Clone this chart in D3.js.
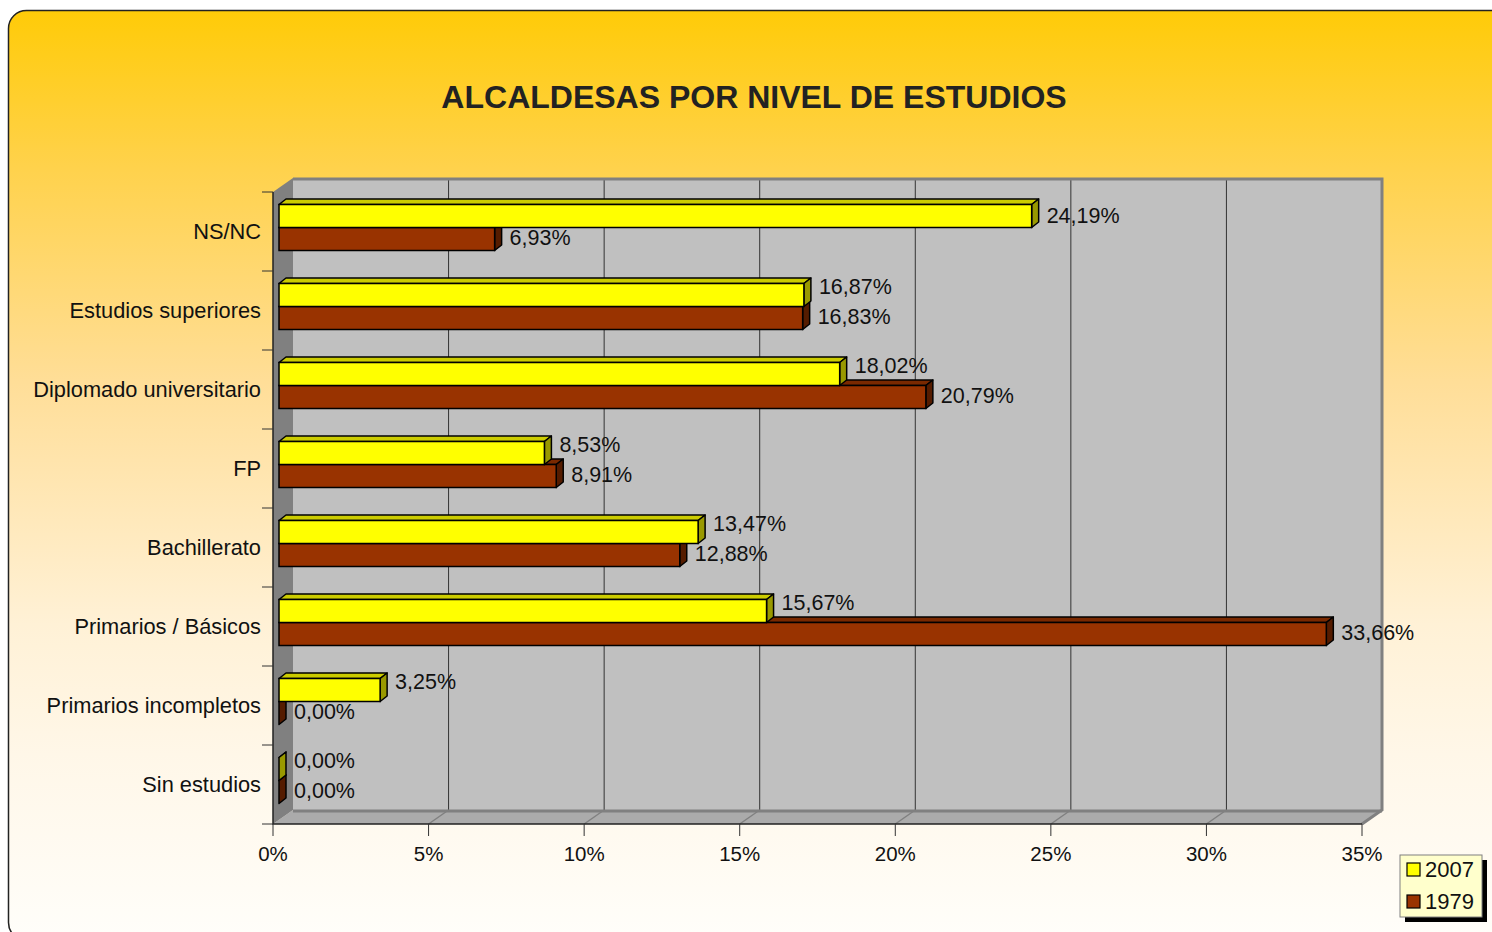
<!DOCTYPE html>
<html>
<head>
<meta charset="utf-8">
<script src="https://cdn.jsdelivr.net/npm/d3@7"></script>
<style>
  html, body { margin: 0; padding: 0; background: #fff; }
  text { font-family: "Liberation Sans", Arial, sans-serif; }
</style>
</head>
<body>
<div id="container"></div>
<script>
// Data.
const categories = ['NS/NC', 'Estudios superiores', 'Diplomado universitario', 'FP',
  'Bachillerato', 'Primarios / Básicos', 'Primarios incompletos', 'Sin estudios'];
const values2007 = [24.19, 16.87, 18.02, 8.53, 13.47, 15.67, 3.25, 0];
const values1979 = [6.93, 16.83, 20.79, 8.91, 12.88, 33.66, 0, 0];
const seriesNames = ['2007', '1979'];
const xTickValues = [0, 5, 10, 15, 20, 25, 30, 35];
const chartTitle = 'ALCALDESAS POR NIVEL DE ESTUDIOS';

const W = 1492, H = 932;
const svg = d3.select('#container').append('svg')
  .attr('width', W).attr('height', H);

// Background frame with vertical gradient.
const defs = svg.append('defs');
const grad = defs.append('linearGradient')
  .attr('id', 'bg').attr('x1', 0).attr('y1', 0).attr('x2', 0).attr('y2', 1);
[[0, '#FFCB08'], [0.17, '#FFD24C'], [0.4, '#FFDE98'], [0.66, '#FFF1D6'], [0.8, '#FFF7E8'], [1, '#FFFEFA']]
  .forEach(([o, c]) => grad.append('stop').attr('offset', o).attr('stop-color', c));

svg.append('rect')
  .attr('x', 8.5).attr('y', 10.5).attr('width', 1530).attr('height', 930)
  .attr('rx', 18)
  .attr('fill', 'url(#bg)')
  .attr('stroke', '#222').attr('stroke-width', 1.5);

// Title.
svg.append('text')
  .attr('x', 754).attr('y', 108)
  .attr('text-anchor', 'middle')
  .attr('font-size', '32px').attr('font-weight', 'bold')
  .attr('fill', '#222')
  .text(chartTitle);

// Scales (front plane), plus 3D depth offsets.
const x = d3.scaleLinear().domain([0, 35]).range([273, 1362]);
const y = d3.scaleBand().domain(categories).range([192, 824]);
const wallDx = 20, wallDy = -14;   // back wall offset
const barDx = 6, barDy = -4;       // bars sit a little into the depth
const depthX = 7, depthY = -5.5;   // bar thickness
const barH = 23;

const top0 = y.range()[0], bot0 = y.range()[1];
const left0 = x(0), right0 = x(35);

const g = svg.append('g');

// Back wall.
g.append('rect')
  .attr('x', left0 + wallDx).attr('y', top0 + wallDy)
  .attr('width', right0 - left0).attr('height', bot0 - top0)
  .attr('fill', '#C0C0C0');

// Gridlines on wall and floor.
g.selectAll('.grid')
  .data(xTickValues.slice(1))
  .enter().append('path')
  .attr('class', 'grid')
  .attr('d', d => `M${x(d) + wallDx},${top0 + wallDy}V${bot0 + wallDy}`)
  .attr('stroke', '#333').attr('stroke-width', 1).attr('fill', 'none');

// Floor.
g.append('path')
  .attr('d', `M${left0},${bot0}L${left0 + wallDx},${bot0 + wallDy}H${right0 + wallDx}L${right0},${bot0}Z`)
  .attr('fill', '#ABABAB');
g.selectAll('.floorgrid')
  .data(xTickValues.slice(1))
  .enter().append('path')
  .attr('d', d => `M${x(d) + wallDx},${bot0 + wallDy}L${x(d)},${bot0}`)
  .attr('stroke', '#808080').attr('stroke-width', 1.5);
g.append('path')
  .attr('d', `M${left0 + wallDx},${bot0 + wallDy + 1}H${right0 + wallDx}`)
  .attr('stroke', '#808080').attr('stroke-width', 3);

// Wall border (top and right).
g.append('path')
  .attr('d', `M${left0 + wallDx},${top0 + wallDy + 1}H${right0 + wallDx}V${bot0 + wallDy}L${right0},${bot0}`)
  .attr('stroke', '#808080').attr('stroke-width', 3).attr('fill', 'none');

// Left wall.
g.append('path')
  .attr('d', `M${left0},${top0}L${left0 + wallDx},${top0 + wallDy}V${bot0 + wallDy}L${left0},${bot0}Z`)
  .attr('fill', '#808080');

// Axes lines.
g.append('path')
  .attr('d', `M${left0},${top0}V${bot0}H${right0}`)
  .attr('stroke', '#222').attr('stroke-width', 1.5).attr('fill', 'none');

// Category ticks.
g.selectAll('.ytick')
  .data(d3.range(categories.length + 1))
  .enter().append('line')
  .attr('x1', left0 - 11).attr('x2', left0)
  .attr('y1', i => top0 + i * y.step()).attr('y2', i => top0 + i * y.step())
  .attr('stroke', '#333').attr('stroke-width', 1);

// X ticks and labels.
const xt = g.selectAll('.xtick').data(xTickValues).enter().append('g');
xt.append('line')
  .attr('x1', d => x(d)).attr('x2', d => x(d))
  .attr('y1', bot0).attr('y2', bot0 + 12)
  .attr('stroke', '#333').attr('stroke-width', 1);
xt.append('text')
  .attr('x', d => x(d)).attr('y', bot0 + 37)
  .attr('text-anchor', 'middle')
  .attr('font-size', '20.5px').attr('fill', '#111')
  .text(d => `${d}%`);

// Category labels.
g.selectAll('.ylabel')
  .data(categories)
  .enter().append('text')
  .attr('x', 261)
  .attr('y', d => y(d) + y.bandwidth() / 2)
  .attr('dy', '0.35em')
  .attr('text-anchor', 'end')
  .attr('font-size', '21.8px').attr('fill', '#111')
  .text(d => d);

// 3D bars.
const series = [
  { name: seriesNames[1], values: values1979, front: '#993300', topC: '#7A2900', side: '#551C00', off: 0 },
  { name: seriesNames[0], values: values2007, front: '#FFFF00', topC: '#CCCC00', side: '#999900', off: -barH }
];

const fmt = v => d3.format('.2f')(v).replace('.', ',') + '%';

series.forEach(s => {
  const bars = g.append('g').selectAll('g')
    .data(categories.map((c, i) => ({ c, v: s.values[i], other: (s.off < 0 ? values1979 : values2007)[i] })))
    .enter().append('g');

  const bx0 = x(0) + barDx;
  const bx1 = d => x(d.v) + barDx;
  const by0 = d => y(d.c) + y.bandwidth() / 2 + barDy + s.off;
  const by1 = d => by0(d) + barH;

  bars.append('path')
    .attr('d', d => `M${bx0},${by0(d)}L${bx0 + depthX},${by0(d) + depthY}H${bx1(d) + depthX}L${bx1(d)},${by0(d)}Z`)
    .attr('fill', s.topC).attr('stroke', '#000').attr('stroke-width', 1.5).attr('stroke-linejoin', 'round');
  bars.append('path')
    .attr('d', d => `M${bx1(d)},${by0(d)}L${bx1(d) + depthX},${by0(d) + depthY}V${by1(d) + depthY}L${bx1(d)},${by1(d)}Z`)
    .attr('fill', s.side).attr('stroke', '#000').attr('stroke-width', 1.5).attr('stroke-linejoin', 'round');
  bars.append('rect')
    .attr('x', bx0).attr('y', by0)
    .attr('width', d => bx1(d) - bx0).attr('height', barH)
    .attr('fill', s.front).attr('stroke', '#000').attr('stroke-width', 1.5);

  // Value labels; the upper label is nudged up when it sits near the lower one.
  bars.append('text')
    .attr('x', d => bx1(d) + 15)
    .attr('y', d => {
      const c = by0(d) + barH / 2;
      if (s.off < 0) return c + (x(d.v) - x(d.other) > 150 ? -1 : -9);
      return c - 2;
    })
    .attr('dy', '0.35em')
    .attr('font-size', '21.5px').attr('fill', '#111')
    .text(d => fmt(d.v));
});

// Legend.
const lg = svg.append('g').attr('transform', 'translate(1400,855)');
lg.append('rect').attr('x', 5).attr('y', 5).attr('width', 82).attr('height', 62).attr('fill', '#000');
lg.append('rect').attr('width', 82).attr('height', 62)
  .attr('fill', '#FFFFCC').attr('stroke', '#808080').attr('stroke-width', 1);
const legendItems = [
  { name: seriesNames[0], color: '#FFFF00' },
  { name: seriesNames[1], color: '#993300' }
];
const li = lg.selectAll('.li').data(legendItems).enter().append('g')
  .attr('transform', (d, i) => `translate(7, ${8 + i * 32})`);
li.append('rect').attr('width', 13).attr('height', 13)
  .attr('fill', d => d.color).attr('stroke', '#000').attr('stroke-width', 1.2);
li.append('text').attr('x', 18).attr('y', 6.5).attr('dy', '0.36em')
  .attr('font-size', '22px').attr('fill', '#111')
  .text(d => d.name);
</script>
</body>
</html>
